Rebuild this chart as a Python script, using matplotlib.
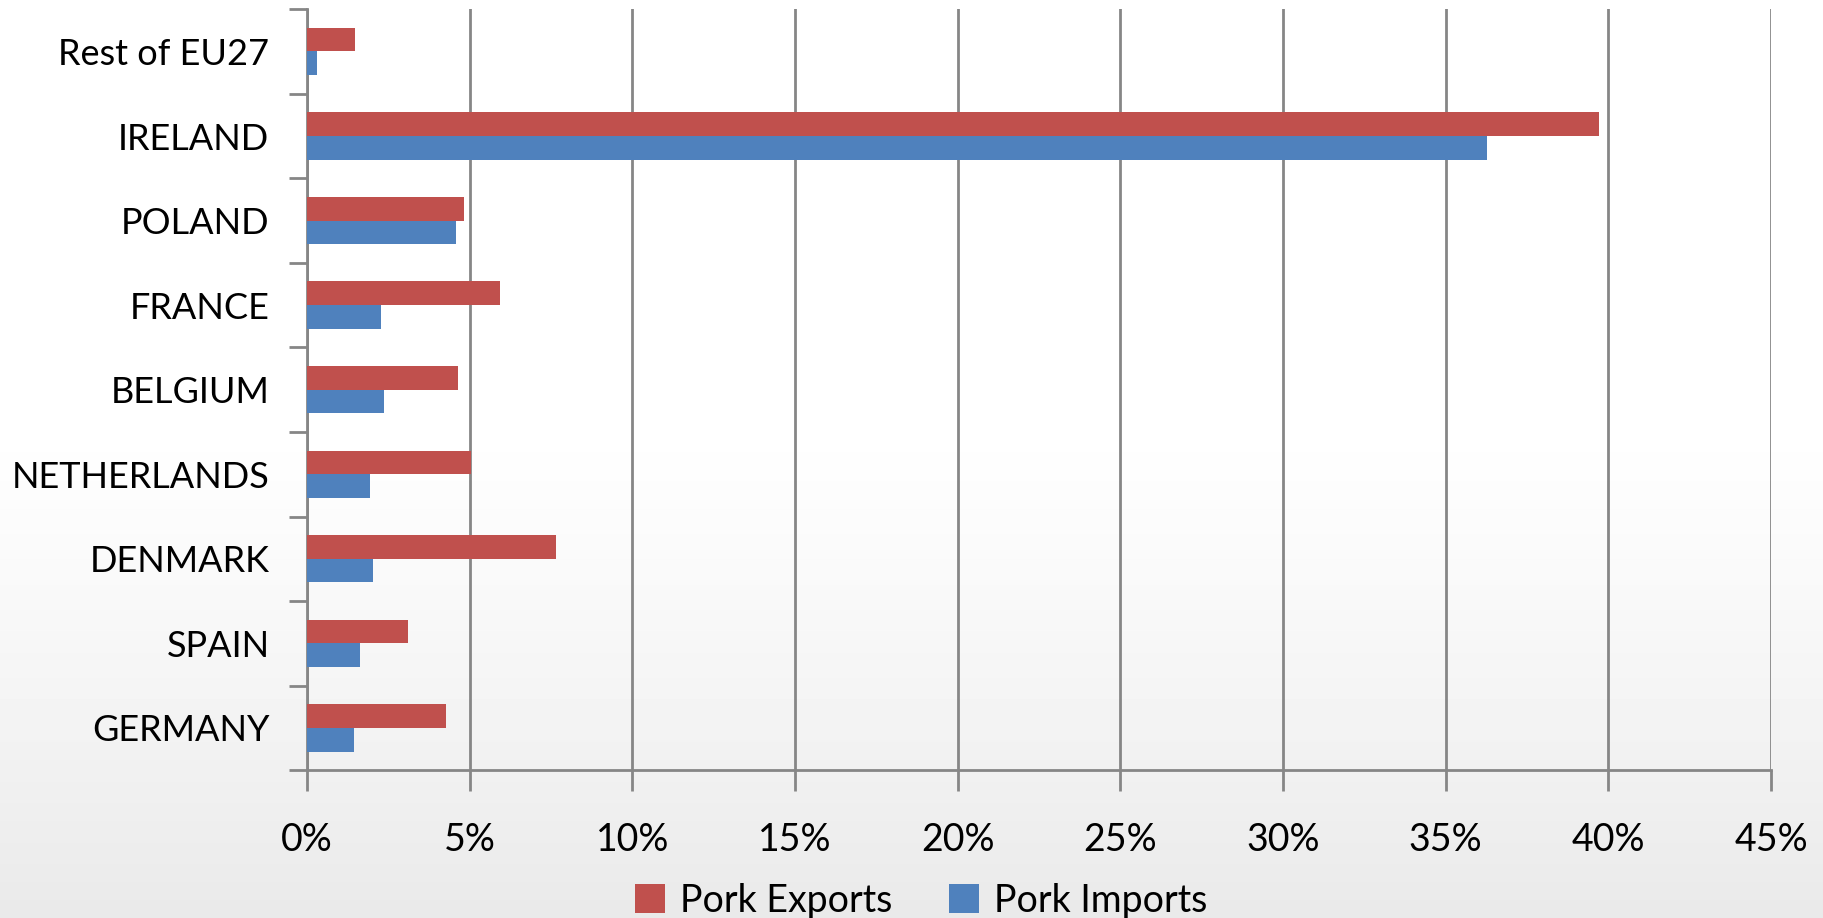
import matplotlib
matplotlib.use("Agg")
import matplotlib.pyplot as plt
import numpy as np

countries = ["GERMANY", "SPAIN", "DENMARK", "NETHERLANDS", "BELGIUM",
             "FRANCE", "POLAND", "IRELAND", "Rest of EU27"]
exports = [4.28, 3.10, 7.65, 5.04, 4.65, 5.94, 4.82, 39.7, 1.49]
imports = [1.44, 1.62, 2.04, 1.93, 2.36, 2.29, 4.59, 36.26, 0.31]
xticks = [0, 5, 10, 15, 20, 25, 30, 35, 40, 45]

plt.rcParams['font.family'] = ['Lato', 'DejaVu Sans']

fig = plt.figure(figsize=(18.24, 9.18), dpi=100)

# background gradient, white to light grey at the bottom
bg = fig.add_axes([0, 0, 1, 1], zorder=-10)
g = np.linspace(0, 1, 256)
shade = np.where(g < 0.45, 1.0, 1.0 - 0.085 * ((g - 0.45) / 0.55) ** 1.2)
bg.imshow(shade[:, None], aspect="auto", cmap="gray", vmin=0, vmax=1,
          extent=[0, 1, 0, 1])
bg.axis("off")

ax = fig.add_axes([0.1683, 0.161, 0.8027, 0.829])
ax.patch.set_alpha(0)

y = np.arange(len(countries))
h = 0.28
ax.barh(y + h/2, exports, height=h, color="#C0504D", label="Pork Exports", zorder=3)
ax.barh(y - h/2, imports, height=h, color="#4F81BD", label="Pork Imports", zorder=3)

ax.set_xlim(0, 45)
ax.set_ylim(-0.5, len(countries) - 0.5)
ax.set_xticks(xticks)
ax.set_xticklabels([f"{t}%" for t in xticks], fontsize=27)
ax.grid(axis="x", color="#868686", linewidth=2, zorder=0)

ax.set_yticks(y)
ax.set_yticklabels(countries, fontsize=26)
ax.set_yticks(np.arange(len(countries) + 1) - 0.5, minor=True)
ax.tick_params(axis="y", which="major", length=0, pad=27)
ax.tick_params(axis="y", which="minor", length=13, width=2, color="#868686")
ax.tick_params(axis="x", length=15, width=2, color="#868686", pad=22)

for s in ["top", "right"]:
    ax.spines[s].set_visible(False)
for s in ["left", "bottom"]:
    ax.spines[s].set_color("#868686")
    ax.spines[s].set_linewidth(2)

fig.legend(loc="center", bbox_to_anchor=(0.505, 0.019), ncol=2, frameon=False,
           fontsize=27, handlelength=0.8, handleheight=0.8, handletextpad=0.4,
           columnspacing=1.5)

fig.savefig("out.png", dpi=100)
